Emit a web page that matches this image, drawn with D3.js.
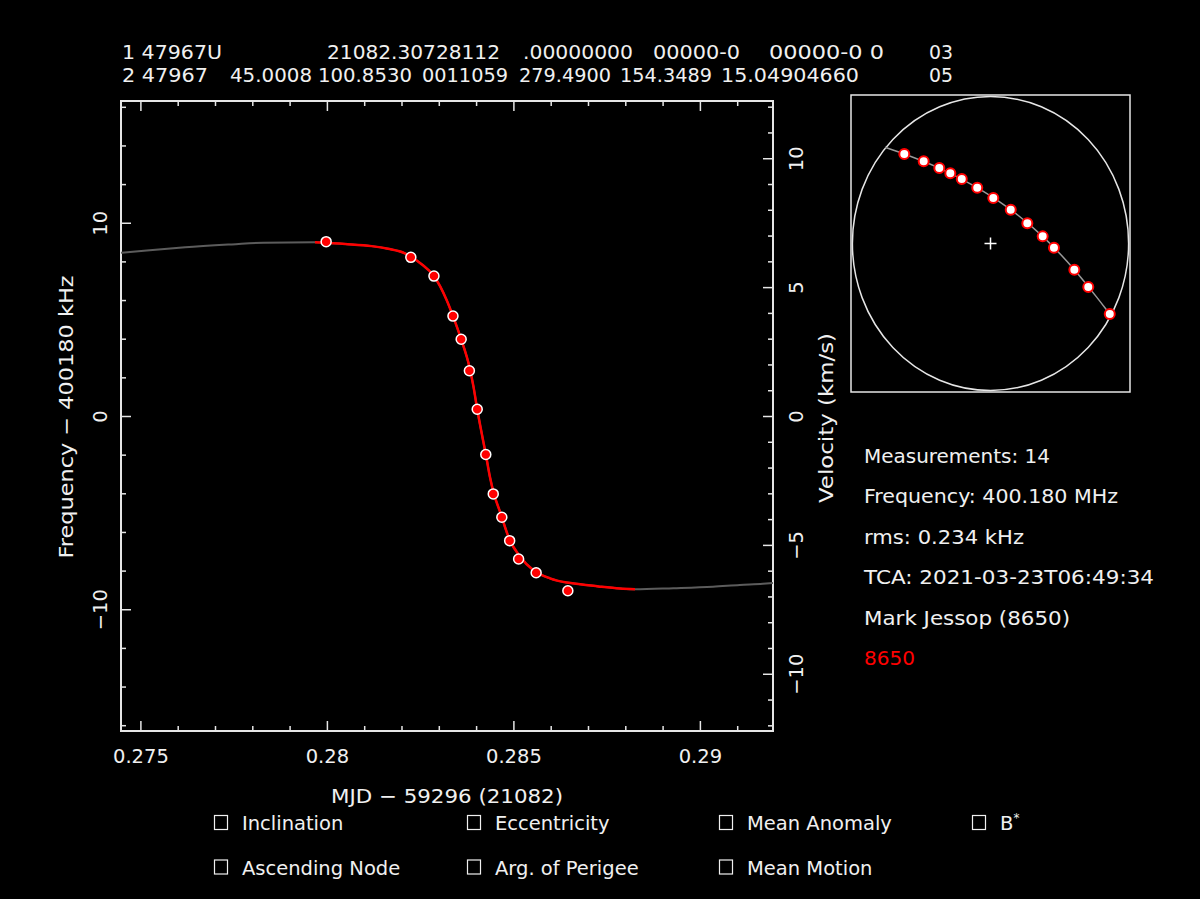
<!DOCTYPE html>
<html>
<head>
<meta charset="utf-8">
<script src="https://cdn.jsdelivr.net/npm/d3@7"></script>
<style>
  html, body { margin: 0; padding: 0; background: #000; }
  svg { display: block; font-family: "DejaVu Sans", sans-serif; }
  text { fill: #f0f0f0; font-size: 19.5px; }
</style>
</head>
<body>
<div class="container"></div>
<script>
// DATA

// doppler measurements (MJD - 59296, frequency offset in kHz)
const measX = [0.27998, 0.28225, 0.28287, 0.28338, 0.28360, 0.28382, 0.28403,
               0.28426, 0.28446, 0.28469, 0.28490, 0.28514, 0.28561, 0.28646];
const measY = [9.02, 8.21, 7.24, 5.17, 3.97, 2.34, 0.35,
               -1.99, -4.03, -5.24, -6.45, -7.40, -8.11, -9.04];

// fitted curve
const fitX = [0.27448, 0.27517, 0.27620, 0.27745, 0.27830, 0.27968, 0.28049, 0.28120,
              0.28164, 0.28209, 0.28254, 0.28287, 0.28321, 0.28338, 0.28360, 0.28382,
              0.28393, 0.28403, 0.28415, 0.28426, 0.28437, 0.28448, 0.28464, 0.28490,
              0.28518, 0.28553, 0.28598, 0.28643, 0.28679, 0.28732, 0.28786, 0.28826,
              0.28929, 0.29035, 0.29107, 0.29169, 0.29196];
const fitY = [8.45, 8.57, 8.73, 8.88, 8.97, 8.99, 8.90, 8.79,
              8.65, 8.42, 7.85, 7.24, 6.00, 5.17, 3.97, 2.55,
              1.52, 0.35, -0.89, -1.98, -3.14, -4.04, -4.95, -6.41,
              -7.28, -7.97, -8.40, -8.62, -8.71, -8.83, -8.93, -8.97,
              -8.91, -8.83, -8.74, -8.68, -8.64];
const fitRed = [0.27968, 0.28826];

// sky track in the inset (normalised horizon coordinates)
const skyU = [-0.618, -0.479, -0.367, -0.288, -0.206, -0.095, 0.020,
              0.145, 0.264, 0.374, 0.455, 0.601, 0.701, 0.855];
const skyV = [0.603, 0.554, 0.508, 0.473, 0.434, 0.376, 0.306,
              0.228, 0.136, 0.048, -0.028, -0.176, -0.293, -0.475];
const trackU = [-0.756, -0.618, -0.367, -0.095, 0.145, 0.374, 0.601, 0.855];
const trackV = [0.648, 0.603, 0.508, 0.376, 0.228, 0.048, -0.176, -0.475];

// ticks
const xMajor = [0.275, 0.28, 0.285, 0.29];
const freqMajor = [-10, 0, 10];
const velMajor = [-10, -5, 0, 5, 10];

// texts
const tleLine1 = ["1 47967U", "21082.30728112", ".00000000", "00000-0", "00000-0 0", "03"];
const tleLine2 = ["2 47967", "45.0008", "100.8530", "0011059", "279.4900", "154.3489", "15.04904660", "05"];
const infoLines = ["Measurements: 14", "Frequency: 400.180 MHz", "rms: 0.234 kHz",
                   "TCA: 2021-03-23T06:49:34", "Mark Jessop (8650)", "8650"];
const checkRow1 = ["Inclination", "Eccentricity", "Mean Anomaly", "B"];
const checkRow2 = ["Ascending Node", "Arg. of Perigee", "Mean Motion"];

// SETUP
const W = 1200, H = 899;
const frameCol = "#e6e6e6";

const svg = d3.select("div.container")
  .append("svg")
  .attr("width", W)
  .attr("height", H);

svg.append("rect").attr("width", W).attr("height", H).attr("fill", "#000");

// main plot box
const box = { left: 121, right: 773, top: 101, bottom: 731 };

const x = d3.scaleLinear().domain([0.27448, 0.29196]).range([box.left, box.right]);
const y = d3.scaleLinear().domain([-16.3, 16.3]).range([box.bottom, box.top]);
const yv = d3.scaleLinear().domain([-12.22, 12.22]).range([box.bottom, box.top]);

// header (TLE), tokens placed at their columns
const tle1X = [122, 327, 523, 653, 769, 929];
const tle1W = [100, 173, 110, 87, 115, 24];
const tle2X = [122, 230, 318, 422, 519, 620, 721, 929];
const tle2W = [86, 82, 94, 86, 92, 92, 138, 24];
svg.append("g").selectAll("text").data(tleLine1).join("text")
  .attr("x", (d, i) => tle1X[i]).attr("y", 59)
  .attr("textLength", (d, i) => tle1W[i]).attr("lengthAdjust", "spacingAndGlyphs")
  .text(d => d);
svg.append("g").selectAll("text").data(tleLine2).join("text")
  .attr("x", (d, i) => tle2X[i]).attr("y", 82)
  .attr("textLength", (d, i) => tle2W[i]).attr("lengthAdjust", "spacingAndGlyphs")
  .text(d => d);

// axes with inward ticks
const xMinor = d3.range(0.275, 0.2915, 0.001).filter(v => !xMajor.some(m => Math.abs(m - v) < 1e-6));
const fMinor = d3.range(-16, 16.1, 2).filter(v => v % 10 !== 0);
const vMinor = d3.range(-12, 12.1, 1).filter(v => v % 5 !== 0);

function styleAxis(g) {
  g.select(".domain").remove();
  g.selectAll("line").attr("stroke", frameCol).attr("stroke-width", 1.5);
}

const fmtX = d => String(+d.toFixed(3));

svg.append("g").attr("transform", `translate(0,${box.bottom})`)
  .call(d3.axisBottom(x).tickValues(xMajor).tickSize(-10).tickFormat(fmtX))
  .call(styleAxis)
  .call(g => g.selectAll("text").attr("y", 32).attr("dy", 0)
    .attr("fill", "#f0f0f0").style("font-size", "19.5px").style("font-family", "DejaVu Sans"));
svg.append("g").attr("transform", `translate(0,${box.bottom})`)
  .call(d3.axisBottom(x).tickValues(xMinor).tickSize(-5).tickFormat(""))
  .call(styleAxis);
svg.append("g").attr("transform", `translate(0,${box.top})`)
  .call(d3.axisTop(x).tickValues(xMajor).tickSize(-10).tickFormat(""))
  .call(styleAxis);
svg.append("g").attr("transform", `translate(0,${box.top})`)
  .call(d3.axisTop(x).tickValues(xMinor).tickSize(-5).tickFormat(""))
  .call(styleAxis);

svg.append("g").attr("transform", `translate(${box.left},0)`)
  .call(d3.axisLeft(y).tickValues(freqMajor).tickSize(-10))
  .call(styleAxis)
  .call(g => g.selectAll("text").attr("x", 0).attr("y", 0).attr("dy", 0)
    .attr("text-anchor", "middle").attr("transform", "translate(-14,0) rotate(-90)")
    .attr("fill", "#f0f0f0").style("font-size", "19.5px").style("font-family", "DejaVu Sans"));
svg.append("g").attr("transform", `translate(${box.left},0)`)
  .call(d3.axisLeft(y).tickValues(fMinor).tickSize(-5).tickFormat(""))
  .call(styleAxis);

svg.append("g").attr("transform", `translate(${box.right},0)`)
  .call(d3.axisRight(yv).tickValues(velMajor).tickSize(-10))
  .call(styleAxis)
  .call(g => g.selectAll("text").attr("x", 0).attr("y", 0).attr("dy", 0)
    .attr("text-anchor", "middle").attr("transform", "translate(30,0) rotate(-90)")
    .attr("fill", "#f0f0f0").style("font-size", "19.5px").style("font-family", "DejaVu Sans"));
svg.append("g").attr("transform", `translate(${box.right},0)`)
  .call(d3.axisRight(yv).tickValues(vMinor).tickSize(-5).tickFormat(""))
  .call(styleAxis);

// frame
svg.append("rect")
  .attr("x", box.left).attr("y", box.top)
  .attr("width", box.right - box.left).attr("height", box.bottom - box.top)
  .attr("fill", "none").attr("stroke", frameCol).attr("stroke-width", 2);

// axis titles
svg.append("text").attr("text-anchor", "middle")
  .attr("transform", "translate(73,417) rotate(-90)")
  .attr("textLength", 283).attr("lengthAdjust", "spacingAndGlyphs")
  .text("Frequency \u2212 400180 kHz");
svg.append("text").attr("text-anchor", "middle")
  .attr("transform", "translate(833,418) rotate(-90)")
  .attr("textLength", 170).attr("lengthAdjust", "spacingAndGlyphs")
  .text("Velocity (km/s)");
svg.append("text").attr("text-anchor", "middle")
  .attr("x", 447).attr("y", 803)
  .attr("textLength", 232).attr("lengthAdjust", "spacingAndGlyphs")
  .text("MJD \u2212 59296 (21082)");

// fitted curve: grey everywhere, red over the measurement span
const fit = fitX.map((d, i) => [d, fitY[i]]);
const line = d3.line().x(d => x(d[0])).y(d => y(d[1])).curve(d3.curveMonotoneX);

svg.append("path").datum(fit)
  .attr("d", line).attr("fill", "none")
  .attr("stroke", "#5c5c5c").attr("stroke-width", 2);
svg.append("path").datum(fit.filter(d => d[0] >= fitRed[0] && d[0] <= fitRed[1]))
  .attr("d", line).attr("fill", "none")
  .attr("stroke", "#ff0000").attr("stroke-width", 2.5);

svg.append("g").selectAll("circle").data(measX).join("circle")
  .attr("cx", d => x(d)).attr("cy", (d, i) => y(measY[i]))
  .attr("r", 5)
  .attr("fill", "#ff0000").attr("stroke", "#fff").attr("stroke-width", 1.5);

// INSET: sky track
const xi = d3.scaleLinear().domain([-1, 1]).range([851, 1130]);
const yi = d3.scaleLinear().domain([-1, 1]).range([392, 95]);

svg.append("rect")
  .attr("x", xi(-1)).attr("y", yi(1))
  .attr("width", xi(1) - xi(-1)).attr("height", yi(-1) - yi(1))
  .attr("fill", "none").attr("stroke", frameCol).attr("stroke-width", 1.5);
svg.append("ellipse")
  .attr("cx", xi(0)).attr("cy", yi(0))
  .attr("rx", xi(0.99) - xi(0)).attr("ry", yi(0) - yi(0.99))
  .attr("fill", "none").attr("stroke", frameCol).attr("stroke-width", 1.5);
svg.append("path")
  .attr("d", `M${xi(0) - 6},${yi(0)}H${xi(0) + 6}M${xi(0)},${yi(0) - 6}V${yi(0) + 6}`)
  .attr("stroke", "#fff").attr("stroke-width", 1.5);

svg.append("path").datum(trackU.map((d, i) => [d, trackV[i]]))
  .attr("d", d3.line().x(d => xi(d[0])).y(d => yi(d[1])).curve(d3.curveCatmullRom))
  .attr("fill", "none").attr("stroke", "#999").attr("stroke-width", 1.5);

svg.append("g").selectAll("circle").data(skyU).join("circle")
  .attr("cx", d => xi(d)).attr("cy", (d, i) => yi(skyV[i]))
  .attr("r", 5)
  .attr("fill", "#fff").attr("stroke", "#ff0000").attr("stroke-width", 2);

// info block
const infoW = [186, 254, 160, 290, 206, 51];
svg.append("g").selectAll("text").data(infoLines).join("text")
  .attr("x", 864).attr("y", (d, i) => 463 + i * 40.4)
  .attr("textLength", (d, i) => infoW[i]).attr("lengthAdjust", "spacingAndGlyphs")
  .style("fill", (d, i) => i === infoLines.length - 1 ? "#ff0000" : "#f0f0f0")
  .text(d => d);

// check boxes
const colX = [214, 467, 719, 972];
[checkRow1, checkRow2].forEach((row, r) => {
  const yb = 830 + r * 44.5;
  const g = svg.append("g");
  g.selectAll("rect").data(row).join("rect")
    .attr("x", (d, i) => colX[i] + 0.5).attr("y", yb - 14.5)
    .attr("width", 13).attr("height", 14)
    .attr("fill", "none").attr("stroke", "#f0f0f0").attr("stroke-width", 1.2);
  const t = g.selectAll("text").data(row).join("text")
    .attr("x", (d, i) => colX[i] + 28).attr("y", yb)
    .text(d => d);
  t.filter(d => d === "B").append("tspan")
    .attr("dy", -8).style("font-size", "12px").text("*");
});
</script>
</body>
</html>
